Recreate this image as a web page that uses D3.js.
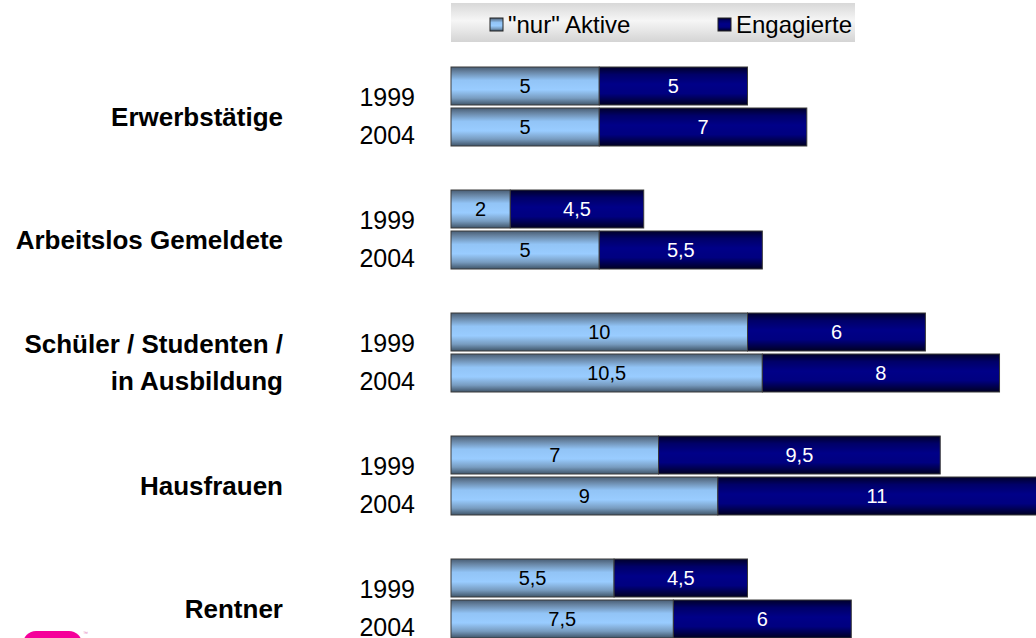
<!DOCTYPE html>
<html lang="de">
<head>
    <meta charset="UTF-8">
    <title>Aktive und Engagierte</title>
    <script type="text/javascript" src="https://cdn.jsdelivr.net/npm/d3@7"></script>
    <style>
        body { margin: 0; background: #fff; }
        svg { display: block; font-family: "Liberation Sans", Arial, sans-serif; }
    </style>
</head>
<body>
<script>
    var categories = ["Erwerbstätige", "Arbeitslos Gemeldete", "Schüler / Studenten /\nin Ausbildung", "Hausfrauen", "Rentner"];
    var years = ["1999", "2004"];
    var seriesNames = ["\"nur\" Aktive", "Engagierte"];
    var nurAktive1999 = [5, 2, 10, 7, 5.5];
    var engagierte1999 = [5, 4.5, 6, 9.5, 4.5];
    var nurAktive2004 = [5, 5, 10.5, 9, 7.5];
    var engagierte2004 = [7, 5.5, 8, 11, 6];

    var w = 1036;
    var h = 638;

    var rows = [];
    categories.forEach(function (c, i) {
        rows.push({cat: c, year: "1999", a: nurAktive1999[i], e: engagierte1999[i]});
        rows.push({cat: c, year: "2004", a: nurAktive2004[i], e: engagierte2004[i]});
    });

    var fmt = d3.formatLocale({decimal: ",", thousands: ".", grouping: [3], currency: ["", " €"]}).format("~g");

    var svg = d3.select("body")
        .append("svg")
        .attr("width", w)
        .attr("height", h);

    var defs = svg.append("defs");
    function gradient(id, stops) {
        var g = defs.append("linearGradient")
            .attr("id", id)
            .attr("x1", 0).attr("y1", 0)
            .attr("x2", 0).attr("y2", 1);
        g.selectAll("stop")
            .data(stops)
            .enter()
            .append("stop")
            .attr("offset", function (d) { return d[0]; })
            .attr("stop-color", function (d) { return d[1]; });
    }
    gradient("gLight", [["0%", "#485d74"], ["12%", "#6682a0"], ["35%", "#92c4f6"], ["60%", "#99ccff"], ["82%", "#789cc0"], ["100%", "#3f5468"]]);
    gradient("gDark", [["0%", "#00002a"], ["20%", "#000068"], ["45%", "#000088"], ["70%", "#000080"], ["100%", "#000022"]]);
    gradient("gLegend", [["0%", "#d8d8d8"], ["45%", "#f6f6f6"], ["100%", "#d4d4d4"]]);

    var x = d3.scaleLinear()
        .domain([0, 20])
        .range([451, 1044]);

    var y = d3.scaleBand()
        .domain(categories)
        .range([67, 638])
        .paddingInner(44 / 123)
        .paddingOuter(0);

    var yInner = d3.scaleBand()
        .domain(years)
        .range([0, y.bandwidth()])
        .paddingInner(3 / 41)
        .paddingOuter(0);

    function barY(d) {
        return y(d.cat) + yInner(d.year);
    }

    // legend
    var legend = svg.append("g");
    legend.append("rect")
        .attr("x", 451)
        .attr("y", 3)
        .attr("width", 404)
        .attr("height", 39)
        .attr("fill", "url(#gLegend)");
    var legendItems = legend.selectAll("g")
        .data(seriesNames)
        .enter()
        .append("g")
        .attr("transform", function (d, i) {
            return "translate(" + (i === 0 ? 490 : 718) + ",18)";
        });
    legendItems.append("rect")
        .attr("width", 13)
        .attr("height", 13)
        .attr("fill", function (d, i) { return i === 0 ? "url(#gLight)" : "url(#gDark)"; })
        .attr("stroke", "#222")
        .attr("stroke-width", 1);
    legendItems.append("text")
        .attr("x", 18)
        .attr("y", 15)
        .attr("font-size", "24px")
        .attr("fill", "#000")
        .text(function (d) { return d; });

    // bars
    var bars = svg.selectAll("g.row")
        .data(rows)
        .enter()
        .append("g")
        .attr("class", "row");

    bars.append("rect")
        .attr("x", x(0))
        .attr("y", barY)
        .attr("width", function (d) { return x(d.a) - x(0); })
        .attr("height", yInner.bandwidth())
        .attr("fill", "url(#gLight)")
        .attr("stroke", "#3a3a3a")
        .attr("stroke-width", 1);

    bars.append("rect")
        .attr("x", function (d) { return x(d.a); })
        .attr("y", barY)
        .attr("width", function (d) { return x(d.a + d.e) - x(d.a); })
        .attr("height", yInner.bandwidth())
        .attr("fill", "url(#gDark)")
        .attr("stroke", "#3a3a3a")
        .attr("stroke-width", 1);

    bars.append("text")
        .attr("x", function (d) { return (x(0) + x(d.a)) / 2; })
        .attr("y", function (d) { return barY(d) + yInner.bandwidth() / 2 + 7; })
        .attr("text-anchor", "middle")
        .attr("font-size", "20px")
        .attr("fill", "#000")
        .text(function (d) { return fmt(d.a); });

    bars.append("text")
        .attr("x", function (d) { return (x(d.a) + Math.min(x(d.a + d.e), w)) / 2; })
        .attr("y", function (d) { return barY(d) + yInner.bandwidth() / 2 + 7; })
        .attr("text-anchor", "middle")
        .attr("font-size", "20px")
        .attr("fill", "#fff")
        .text(function (d) { return fmt(d.e); });

    // year labels, a bit tighter than the bars
    svg.selectAll("text.year")
        .data(rows)
        .enter()
        .append("text")
        .attr("class", "year")
        .attr("x", 415)
        .attr("y", function (d) {
            var i = years.indexOf(d.year);
            return y(d.cat) + y.bandwidth() / 2 + (i - 0.5) * 38 + 18;
        })
        .attr("text-anchor", "end")
        .attr("font-size", "25px")
        .attr("fill", "#000")
        .text(function (d) { return d.year; });

    // category labels
    var catLabels = svg.selectAll("text.cat")
        .data(categories)
        .enter()
        .append("text")
        .attr("class", "cat")
        .attr("text-anchor", "end")
        .attr("font-size", "26px")
        .attr("font-weight", "bold")
        .attr("fill", "#000");
    catLabels.each(function (c) {
        var lines = c.split("\n");
        var mid = y(c) + y.bandwidth() / 2 + 10;
        var first = mid - (lines.length - 1) * 37 / 2 + 9;
        d3.select(this).selectAll("tspan")
            .data(lines)
            .enter()
            .append("tspan")
            .attr("x", 283)
            .attr("y", function (d, i) { return first + i * 37; })
            .text(function (d) { return d; });
    });

    // logo fragment at bottom left
    svg.append("rect")
        .attr("x", 23)
        .attr("y", 631)
        .attr("width", 59)
        .attr("height", 30)
        .attr("rx", 13)
        .attr("fill", "#f5009a");
    svg.append("text")
        .attr("x", 83)
        .attr("y", 635)
        .attr("font-size", "5px")
        .attr("fill", "#e07ab8")
        .text("™");
</script>
</body>
</html>
